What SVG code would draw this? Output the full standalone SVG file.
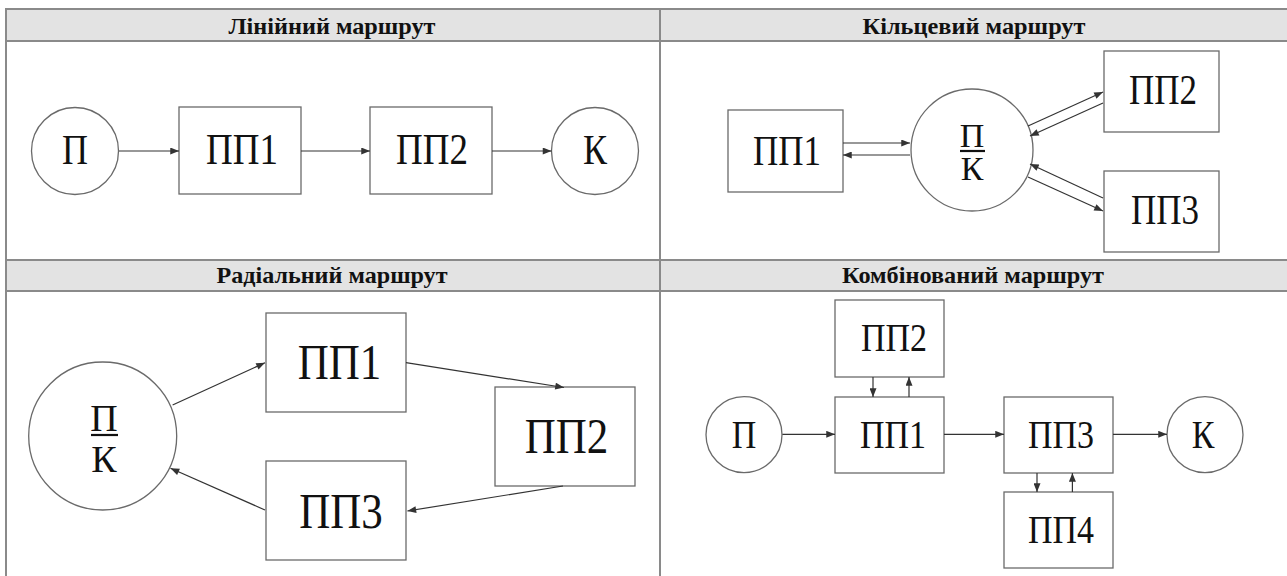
<svg xmlns="http://www.w3.org/2000/svg" width="1287" height="576" viewBox="0 0 1287 576">
  <defs>
    <marker id="ah" viewBox="0 0 10 8" refX="10" refY="4" markerWidth="10" markerHeight="7" markerUnits="userSpaceOnUse" orient="auto">
      <path d="M0,0 L10,4 L0,8 z" fill="#333"/>
    </marker>
  </defs>
  <style>
    .band { fill: #e3e3e3; stroke: none; }
    .grid { stroke: #8a8a8a; stroke-width: 2; fill: none; }
    .hdr { font-family: "Liberation Serif", "DejaVu Serif", serif; font-weight: bold; font-size: 23px; fill: #111; text-anchor: middle; }
    .node { fill: #fff; stroke: #6a6a6a; stroke-width: 1.3; }
    .lbl { font-family: "Liberation Serif", "DejaVu Serif", serif; fill: #111; text-anchor: middle; }
    .edge { stroke: #333; stroke-width: 1.2; fill: none; marker-end: url(#ah); }
    .bar { stroke: #111; stroke-width: 2.2; }
  </style>
  <rect width="1287" height="576" fill="#fff"/>

  <g id="table">
    <rect class="band" x="5" y="9" width="1282" height="32"/>
    <rect class="band" x="5" y="260" width="1282" height="31"/>
    <line class="grid" x1="5" y1="9" x2="1287" y2="9"/>
    <line class="grid" x1="5" y1="41" x2="1287" y2="41"/>
    <line class="grid" x1="5" y1="260" x2="1287" y2="260"/>
    <line class="grid" x1="5" y1="291" x2="1287" y2="291"/>
    <line class="grid" x1="6" y1="9" x2="6" y2="576"/>
    <line class="grid" x1="660" y1="9" x2="660" y2="576"/>
    <text class="hdr" x="332" y="34" textLength="207" lengthAdjust="spacingAndGlyphs">Лінійний маршрут</text>
    <text class="hdr" x="974" y="34" textLength="223" lengthAdjust="spacingAndGlyphs">Кільцевий маршрут</text>
    <text class="hdr" x="332" y="283" textLength="231" lengthAdjust="spacingAndGlyphs">Радіальний маршрут</text>
    <text class="hdr" x="973" y="283" textLength="262" lengthAdjust="spacingAndGlyphs">Комбінований маршрут</text>
  </g>

  <!-- Лінійний маршрут -->
  <g id="lin-P"><circle class="node" cx="75" cy="151" r="43.5"/><text class="lbl" transform="translate(75,164) scale(1,1.18)" font-size="36">П</text></g>
  <g id="lin-PP1"><rect class="node" x="179" y="107" width="122" height="87"/><text class="lbl" transform="translate(242,164) scale(1,1.18)" font-size="37">ПП1</text></g>
  <g id="lin-PP2"><rect class="node" x="370" y="107" width="122" height="87"/><text class="lbl" transform="translate(432,164) scale(1,1.18)" font-size="37">ПП2</text></g>
  <g id="lin-K"><circle class="node" cx="595" cy="151" r="43.5"/><text class="lbl" transform="translate(595,164) scale(1,1.18)" font-size="36">К</text></g>

  <!-- Кільцевий маршрут -->
  <g id="ring-PP1"><rect class="node" x="728" y="110" width="115" height="82"/><text class="lbl" transform="translate(787,165) scale(1,1.18)" font-size="35">ПП1</text></g>
  <g id="ring-PK"><circle class="node" cx="972" cy="150" r="61"/>
    <text class="lbl" x="972" y="147" font-size="34">П</text>
    <line class="bar" x1="960" y1="151" x2="985" y2="151"/>
    <text class="lbl" x="972" y="180" font-size="34">К</text></g>
  <g id="ring-PP2"><rect class="node" x="1104" y="51" width="115" height="81"/><text class="lbl" transform="translate(1163,104) scale(1,1.18)" font-size="35">ПП2</text></g>
  <g id="ring-PP3"><rect class="node" x="1104" y="171" width="115" height="81"/><text class="lbl" transform="translate(1165,224) scale(1,1.18)" font-size="35">ПП3</text></g>

  <!-- Радіальний маршрут -->
  <g id="rad-PK"><circle class="node" cx="102.7" cy="436" r="74"/>
    <text class="lbl" x="104" y="431" font-size="38">П</text>
    <line class="bar" x1="91" y1="435" x2="118" y2="435"/>
    <text class="lbl" x="104" y="472" font-size="38">К</text></g>
  <g id="rad-PP1"><rect class="node" x="266" y="313" width="140" height="99"/><text class="lbl" transform="translate(339.5,379) scale(1,1.18)" font-size="43">ПП1</text></g>
  <g id="rad-PP2"><rect class="node" x="495" y="387" width="140" height="99"/><text class="lbl" transform="translate(566.5,453) scale(1,1.18)" font-size="43">ПП2</text></g>
  <g id="rad-PP3"><rect class="node" x="266" y="461" width="140" height="99"/><text class="lbl" transform="translate(341,528) scale(1,1.18)" font-size="43">ПП3</text></g>

  <!-- Комбінований маршрут -->
  <g id="comb-PP2"><rect class="node" x="835" y="300" width="109" height="77"/><text class="lbl" transform="translate(894,351) scale(1,1.18)" font-size="34">ПП2</text></g>
  <g id="comb-P"><circle class="node" cx="744" cy="434.7" r="38"/><text class="lbl" transform="translate(744,448) scale(1,1.18)" font-size="34">П</text></g>
  <g id="comb-PP1"><rect class="node" x="835" y="397" width="109" height="76"/><text class="lbl" transform="translate(893,448) scale(1,1.18)" font-size="34">ПП1</text></g>
  <g id="comb-PP3"><rect class="node" x="1004" y="397" width="109" height="76"/><text class="lbl" transform="translate(1061,448) scale(1,1.18)" font-size="34">ПП3</text></g>
  <g id="comb-K"><circle class="node" cx="1205" cy="434.7" r="38"/><text class="lbl" transform="translate(1203,448) scale(1,1.18)" font-size="34">К</text></g>
  <g id="comb-PP4"><rect class="node" x="1004" y="492" width="109" height="76"/><text class="lbl" transform="translate(1061,543) scale(1,1.18)" font-size="34">ПП4</text></g>

  <g id="connectors">
    <line class="edge" x1="119" y1="151" x2="179" y2="151"/>
    <line class="edge" x1="301" y1="151" x2="370" y2="151"/>
    <line class="edge" x1="492" y1="151" x2="551.5" y2="151"/>
    <line class="edge" x1="843" y1="143" x2="910" y2="143"/>
    <line class="edge" x1="910" y1="155" x2="843" y2="155"/>
    <line class="edge" x1="1028" y1="126" x2="1103" y2="92"/>
    <line class="edge" x1="1103" y1="103" x2="1030" y2="136"/>
    <line class="edge" x1="1103" y1="198" x2="1030" y2="164"/>
    <line class="edge" x1="1028" y1="177" x2="1103" y2="211"/>
    <line class="edge" x1="172.6" y1="405" x2="265" y2="362.7"/>
    <line class="edge" x1="406" y1="362.7" x2="564" y2="387.5"/>
    <line class="edge" x1="563" y1="486" x2="407.4" y2="511"/>
    <line class="edge" x1="265" y1="510" x2="170.5" y2="468.3"/>
    <line class="edge" x1="782.4" y1="434.3" x2="835" y2="434.3"/>
    <line class="edge" x1="944" y1="434.3" x2="1004" y2="434.3"/>
    <line class="edge" x1="1113" y1="434.3" x2="1167" y2="434.3"/>
    <line class="edge" x1="873" y1="377" x2="873" y2="397"/>
    <line class="edge" x1="909" y1="397" x2="909" y2="377"/>
    <line class="edge" x1="1037" y1="473" x2="1037" y2="492"/>
    <line class="edge" x1="1072.4" y1="492" x2="1072.4" y2="473"/>
  </g>
</svg>
